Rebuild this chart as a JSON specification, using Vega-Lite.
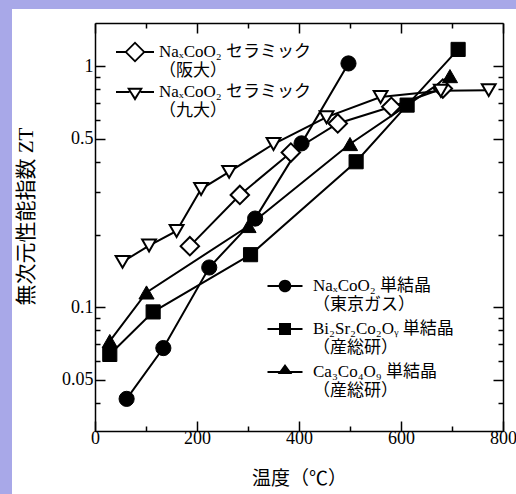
{
  "$schema": "https://vega.github.io/schema/vega-lite/v6.json",
  "width": 504,
  "height": 485,
  "autosize": {"type": "none"},
  "padding": {"left": 12, "top": 9, "right": 0, "bottom": 0},
  "background": "#a8a8e8",
  "config": {
    "view": {"fill": "white", "stroke": null},
    "axis": {"grid": false, "domainColor": "black", "domainWidth": 1.5, "tickColor": "black", "tickWidth": 1.5, "labelColor": "black", "titleColor": "black", "labelFont": "Liberation Serif, Times New Roman, serif", "labelFontSize": 18, "labelFlush": false, "labelOverlap": false, "labelBound": false, "titleFontWeight": "normal"},
    "legend": {"title": null, "padding": 0, "labelLimit": 400, "labelFont": "Liberation Serif, Times New Roman, DejaVu Serif, Noto Sans CJK JP", "labelFontSize": 17, "labelColor": "black", "labelBaseline": "middle", "symbolOpacity": 1}
  },
  "data": {"values": [
    {"series": "NaₓCoO₂ セラミック（阪大）", "group": "ceramic", "T": 186, "ZT": 0.179},
    {"series": "NaₓCoO₂ セラミック（阪大）", "group": "ceramic", "T": 284, "ZT": 0.292},
    {"series": "NaₓCoO₂ セラミック（阪大）", "group": "ceramic", "T": 384, "ZT": 0.438},
    {"series": "NaₓCoO₂ セラミック（阪大）", "group": "ceramic", "T": 476, "ZT": 0.578},
    {"series": "NaₓCoO₂ セラミック（阪大）", "group": "ceramic", "T": 581, "ZT": 0.678},
    {"series": "NaₓCoO₂ セラミック（阪大）", "group": "ceramic", "T": 682, "ZT": 0.807},
    {"series": "NaₓCoO₂ セラミック（九大）", "group": "ceramic", "T": 54, "ZT": 0.154},
    {"series": "NaₓCoO₂ セラミック（九大）", "group": "ceramic", "T": 106, "ZT": 0.18},
    {"series": "NaₓCoO₂ セラミック（九大）", "group": "ceramic", "T": 160, "ZT": 0.207},
    {"series": "NaₓCoO₂ セラミック（九大）", "group": "ceramic", "T": 208, "ZT": 0.309},
    {"series": "NaₓCoO₂ セラミック（九大）", "group": "ceramic", "T": 263, "ZT": 0.364},
    {"series": "NaₓCoO₂ セラミック（九大）", "group": "ceramic", "T": 350, "ZT": 0.475},
    {"series": "NaₓCoO₂ セラミック（九大）", "group": "ceramic", "T": 454, "ZT": 0.614},
    {"series": "NaₓCoO₂ セラミック（九大）", "group": "ceramic", "T": 560, "ZT": 0.744},
    {"series": "NaₓCoO₂ セラミック（九大）", "group": "ceramic", "T": 678, "ZT": 0.791},
    {"series": "NaₓCoO₂ セラミック（九大）", "group": "ceramic", "T": 772, "ZT": 0.795},
    {"series": "NaₓCoO₂ 単結晶（東京ガス）", "group": "crystal", "T": 62, "ZT": 0.0416},
    {"series": "NaₓCoO₂ 単結晶（東京ガス）", "group": "crystal", "T": 134, "ZT": 0.0676},
    {"series": "NaₓCoO₂ 単結晶（東京ガス）", "group": "crystal", "T": 224, "ZT": 0.146},
    {"series": "NaₓCoO₂ 単結晶（東京ガス）", "group": "crystal", "T": 314, "ZT": 0.233},
    {"series": "NaₓCoO₂ 単結晶（東京ガス）", "group": "crystal", "T": 405, "ZT": 0.478},
    {"series": "NaₓCoO₂ 単結晶（東京ガス）", "group": "crystal", "T": 497, "ZT": 1.026},
    {"series": "Bi₂Sr₂Co₂Oᵧ 単結晶（産総研）", "group": "crystal", "T": 29, "ZT": 0.0636},
    {"series": "Bi₂Sr₂Co₂Oᵧ 単結晶（産総研）", "group": "crystal", "T": 114, "ZT": 0.0955},
    {"series": "Bi₂Sr₂Co₂Oᵧ 単結晶（産総研）", "group": "crystal", "T": 305, "ZT": 0.165},
    {"series": "Bi₂Sr₂Co₂Oᵧ 単結晶（産総研）", "group": "crystal", "T": 512, "ZT": 0.401},
    {"series": "Bi₂Sr₂Co₂Oᵧ 単結晶（産総研）", "group": "crystal", "T": 612, "ZT": 0.689},
    {"series": "Bi₂Sr₂Co₂Oᵧ 単結晶（産総研）", "group": "crystal", "T": 712, "ZT": 1.173},
    {"series": "Ca₃Co₄O₉ 単結晶（産総研）", "group": "crystal", "T": 29, "ZT": 0.0723},
    {"series": "Ca₃Co₄O₉ 単結晶（産総研）", "group": "crystal", "T": 101, "ZT": 0.115},
    {"series": "Ca₃Co₄O₉ 単結晶（産総研）", "group": "crystal", "T": 301, "ZT": 0.217},
    {"series": "Ca₃Co₄O₉ 単結晶（産総研）", "group": "crystal", "T": 500, "ZT": 0.475},
    {"series": "Ca₃Co₄O₉ 単結晶（産総研）", "group": "crystal", "T": 696, "ZT": 0.909}
  ]},
  "resolve": {"axis": {"x": "independent", "y": "independent"}, "scale": {"shape": "independent"}, "legend": {"shape": "independent"}},
  "layer": [
    {
      "mark": {"type": "line", "color": "black", "strokeWidth": 2},
      "encoding": {
        "x": {"field": "T", "type": "quantitative", "scale": {"domain": [0, 800], "range": [83, 491], "nice": false, "zero": false},
          "axis": {"orient": "bottom", "offset": -63, "values": [0, 200, 400, 600, 800], "tickSize": -10, "labelPadding": 8, "title": "温度（℃）", "titleFont": "Noto Sans CJK JP", "titleFontSize": 19, "titlePadding": 22}},
        "y": {"field": "ZT", "type": "quantitative", "scale": {"type": "log", "domain": [0.0306, 1.51], "range": [422, 14], "nice": false},
          "axis": {"orient": "left", "offset": -83, "values": [0.05, 0.1, 0.5, 1], "format": "~g", "tickSize": -10, "labelPadding": 12, "title": "無次元性能指数 ZT", "titleFont": "Liberation Serif, Times New Roman, Noto Sans CJK JP", "titleFontSize": 21, "titlePadding": 25, "titleY": 207}},
        "detail": {"field": "series"}
      }
    },
    {
      "transform": [{"filter": "datum.series == 'NaₓCoO₂ セラミック（阪大）'"}],
      "mark": {"type": "point", "shape": "diamond", "size": 340, "filled": true, "fill": "white", "stroke": "black", "strokeWidth": 2, "opacity": 1},
      "encoding": {
        "x": {"field": "T", "type": "quantitative", "scale": {"domain": [0, 800], "range": [83, 491], "nice": false, "zero": false},
          "axis": {"orient": "top", "offset": -14, "values": [0, 200, 400, 600, 800], "tickSize": -10, "labels": false, "title": null}},
        "y": {"field": "ZT", "type": "quantitative", "scale": {"type": "log", "domain": [0.0306, 1.51], "range": [422, 14], "nice": false},
          "axis": {"orient": "right", "offset": -13, "values": [0.05, 0.1, 0.5, 1], "tickSize": -10, "labels": false, "title": null}}
      }
    },
    {
      "transform": [{"filter": "datum.series == 'NaₓCoO₂ セラミック（九大）'"}],
      "mark": {"type": "point", "shape": "triangle-down", "size": 190, "filled": true, "fill": "white", "stroke": "black", "strokeWidth": 2, "opacity": 1},
      "encoding": {
        "x": {"field": "T", "type": "quantitative", "scale": {"domain": [0, 800], "range": [83, 491], "nice": false, "zero": false},
          "axis": {"orient": "top", "offset": -14, "values": [100, 300, 500, 700], "tickSize": -5, "labels": false, "domain": false, "title": null}},
        "y": {"field": "ZT", "type": "quantitative", "scale": {"type": "log", "domain": [0.0306, 1.51], "range": [422, 14], "nice": false},
          "axis": {"orient": "right", "offset": -13, "values": [0.04, 0.06, 0.07, 0.08, 0.09, 0.2, 0.3, 0.4, 0.6, 0.7, 0.8, 0.9], "tickSize": -5, "labels": false, "domain": false, "title": null}}
      }
    },
    {
      "transform": [{"filter": "datum.series == 'NaₓCoO₂ 単結晶（東京ガス）'"}],
      "mark": {"type": "point", "shape": "circle", "size": 230, "filled": true, "fill": "black", "stroke": "black", "strokeWidth": 1, "opacity": 1},
      "encoding": {
        "x": {"field": "T", "type": "quantitative", "scale": {"domain": [0, 800], "range": [83, 491], "nice": false, "zero": false},
          "axis": {"orient": "bottom", "offset": -63, "values": [100, 300, 500, 700], "tickSize": -5, "labels": false, "domain": false, "title": null}},
        "y": {"field": "ZT", "type": "quantitative", "scale": {"type": "log", "domain": [0.0306, 1.51], "range": [422, 14], "nice": false},
          "axis": {"orient": "left", "offset": -83, "values": [0.04, 0.06, 0.07, 0.08, 0.09, 0.2, 0.3, 0.4, 0.6, 0.7, 0.8, 0.9], "tickSize": -5, "labels": false, "domain": false, "title": null}}
      }
    },
    {
      "transform": [{"filter": "datum.series == 'Bi₂Sr₂Co₂Oᵧ 単結晶（産総研）'"}],
      "mark": {"type": "point", "shape": "square", "size": 200, "filled": true, "fill": "black", "stroke": "black", "strokeWidth": 1, "opacity": 1},
      "encoding": {
        "x": {"field": "T", "type": "quantitative", "scale": {"domain": [0, 800], "range": [83, 491], "nice": false, "zero": false}, "axis": null},
        "y": {"field": "ZT", "type": "quantitative", "scale": {"type": "log", "domain": [0.0306, 1.51], "range": [422, 14], "nice": false}, "axis": null}
      }
    },
    {
      "transform": [{"filter": "datum.series == 'Ca₃Co₄O₉ 単結晶（産総研）'"}],
      "mark": {"type": "point", "shape": "triangle-up", "size": 230, "filled": true, "fill": "black", "stroke": "black", "strokeWidth": 1, "opacity": 1},
      "encoding": {
        "x": {"field": "T", "type": "quantitative", "scale": {"domain": [0, 800], "range": [83, 491], "nice": false, "zero": false}, "axis": null},
        "y": {"field": "ZT", "type": "quantitative", "scale": {"type": "log", "domain": [0.0306, 1.51], "range": [422, 14], "nice": false}, "axis": null}
      }
    },
    {
      "transform": [{"filter": "datum.group == 'legend-only'"}],
      "mark": {"type": "point", "filled": true, "fill": "black"},
      "encoding": {
        "x": {"field": "T", "type": "quantitative", "scale": {"domain": [0, 800], "range": [83, 491], "nice": false, "zero": false}, "axis": null},
        "y": {"field": "ZT", "type": "quantitative", "scale": {"type": "log", "domain": [0.0306, 1.51], "range": [422, 14], "nice": false}, "axis": null},
        "shape": {"field": "series", "type": "nominal",
          "scale": {"domain": ["NaₓCoO₂ セラミック（阪大）", "NaₓCoO₂ セラミック（九大）"],
            "range": ["M-1.9,-0.1H-0.95V0.1H-1.9ZM0.95,-0.1H1.9V0.1H0.95ZM-1.05,0L0,-1.05L1.05,0L0,1.05ZM-0.8,0L0,0.8L0.8,0L0,-0.8Z",
                      "M-1.9,-0.1H-0.55V0.1H-1.9ZM0.55,-0.1H1.9V0.1H0.55ZM-0.8,-0.42L0.8,-0.42L0,0.91ZM-0.475,-0.23L0,0.51L0.475,-0.23Z"]},
          "legend": {"orient": "none", "legendX": 112, "legendY": 32, "symbolSize": 400, "rowPadding": 2, "labelOffset": 13,
            "labelExpr": "[slice(datum.label, 0, indexof(datum.label, '（')), slice(datum.label, indexof(datum.label, '（'))]"}}
      }
    },
    {
      "transform": [{"filter": "datum.group == 'legend-only'"}],
      "mark": {"type": "point", "filled": true, "fill": "black"},
      "encoding": {
        "x": {"field": "T", "type": "quantitative", "scale": {"domain": [0, 800], "range": [83, 491], "nice": false, "zero": false}, "axis": null},
        "y": {"field": "ZT", "type": "quantitative", "scale": {"type": "log", "domain": [0.0306, 1.51], "range": [422, 14], "nice": false}, "axis": null},
        "shape": {"field": "series", "type": "nominal",
          "scale": {"domain": ["NaₓCoO₂ 単結晶（東京ガス）", "Bi₂Sr₂Co₂Oᵧ 単結晶（産総研）", "Ca₃Co₄O₉ 単結晶（産総研）"],
            "range": ["M-1.75,-0.1H1.75V0.1H-1.75ZM-0.63,0A0.63,0.63,0,1,1,0.63,0A0.63,0.63,0,1,1,-0.63,0Z",
                      "M-1.75,-0.1H1.75V0.1H-1.75ZM-0.6,-0.6H0.6V0.6H-0.6Z",
                      "M-1.75,-0.1H1.75V0.1H-1.75ZM0,-0.8L0.73,0.2L-0.73,0.2Z"]},
          "legend": {"orient": "none", "legendX": 262, "legendY": 266, "symbolSize": 400, "rowPadding": 5, "labelOffset": 17,
            "labelExpr": "[slice(datum.label, 0, indexof(datum.label, '（')), slice(datum.label, indexof(datum.label, '（'))]"}}
      }
    }
  ]
}
